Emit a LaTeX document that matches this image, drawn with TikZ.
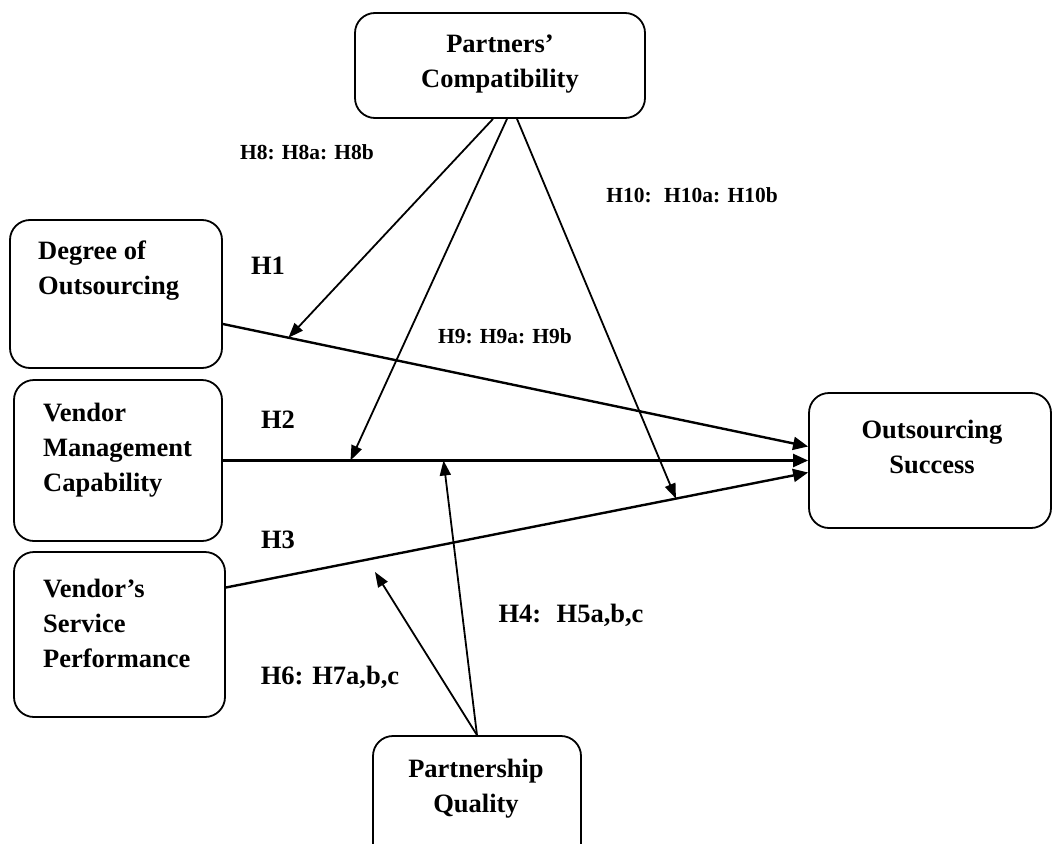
\documentclass[tikz,border=0pt]{standalone}
\usepackage{fontspec}
\setmainfont{Liberation Serif}
\usetikzlibrary{arrows.meta, positioning, calc}
\tikzset{
  construct/.style={rectangle, draw, rounded corners=20pt, line width=1.8pt},
  boxtext/.style={inner sep=0pt, align=left, font=\fontsize{26.5}{35}\selectfont\bfseries},
  boxtextC/.style={inner sep=0pt, align=center, font=\fontsize{26.5}{35}\selectfont\bfseries},
  hyp/.style={inner sep=0pt, font=\fontsize{26.5}{32}\selectfont\bfseries},
  hypS/.style={inner sep=0pt, font=\fontsize{21.5}{26}\selectfont\bfseries},
  mainarrow/.style={-{Triangle[length=15pt, width=13pt]}, line width=2.4pt},
  modarrow/.style={-{Triangle[length=15pt, width=11pt]}, line width=1.8pt},
}
\begin{document}
\begin{tikzpicture}[x=1pt, y=-1pt]
\useasboundingbox (0,0) rectangle (1054,843);
\clip (0,0) rectangle (1054,843);
\node (pc)  [construct, minimum width=290pt, minimum height=105pt] at (500,65.5) {};
\node (doo) [construct, minimum width=212pt, minimum height=148pt] at (116,294) {};
\node (vmc) [construct, minimum width=208pt, minimum height=161pt] at (118,460.5) {};
\node (vsp) [construct, minimum width=211pt, minimum height=165pt] at (119.5,634.5) {};
\node (os)  [construct, minimum width=242pt, minimum height=135pt] at (930,460.5) {};
\node (pq)  [construct, minimum width=208pt, minimum height=144pt] at (477,808) {};
\node (pc-t)  [boxtextC] at (500,64.5) {Partners'\\Compatibility};
\node (doo-t) [boxtext, anchor=west] at (38,271) {Degree of\\Outsourcing};
\node (vmc-t) [boxtext, anchor=west] at (43,450) {Vendor\\Management\\Capability};
\node (vsp-t) [boxtext, anchor=west] at (43,623) {Vendor's\\Service\\Performance};
\node (os-t)  [boxtextC] at (932,447) {Outsourcing\\Success};
\node (pq-t)  [boxtextC] at (476,788.5) {Partnership\\Quality};
\node (h8)  [hypS] at (307,152) {H8: H8a: H8b};
\node (h10) [hypS] at (692,195) {H10:~ H10a: H10b};
\node (h9)  [hypS] at (505,336) {H9: H9a: H9b};
\node (h1)  [hyp] at (268,266) {H1};
\node (h2)  [hyp] at (278,420) {H2};
\node (h3)  [hyp] at (278,540) {H3};
\node (h4)  [hyp] at (571,615) {H4:~ H5a,b,c};
\node (h6)  [hyp] at (330,677) {H6: H7a,b,c};
\draw[mainarrow] ($(doo.east)+(0,30)$) -- coordinate[pos=0.112] (m1) ($(os.west)+(0,-14)$);
\draw[mainarrow] (vmc.east) -- coordinate[pos=0.218] (m2) coordinate[pos=0.377] (m4) (os.west);
\draw[mainarrow] ($(vsp.east)+(0,-47)$) -- coordinate[pos=0.773] (m3) ($(os.west)+(0,12)$);
\coordinate (m5) at (375,572);
\draw[modarrow] ($(pc.south)+(-7,0)$) -- (m1);
\draw[modarrow] ($(pc.south)+(7,0)$) -- (m2);
\draw[modarrow] ($(pc.south)+(17,0)$) -- (m3);
\draw[modarrow] (pq.north) -- (m4);
\draw[modarrow] (pq.north) -- (m5);
\end{tikzpicture}
\end{document}
